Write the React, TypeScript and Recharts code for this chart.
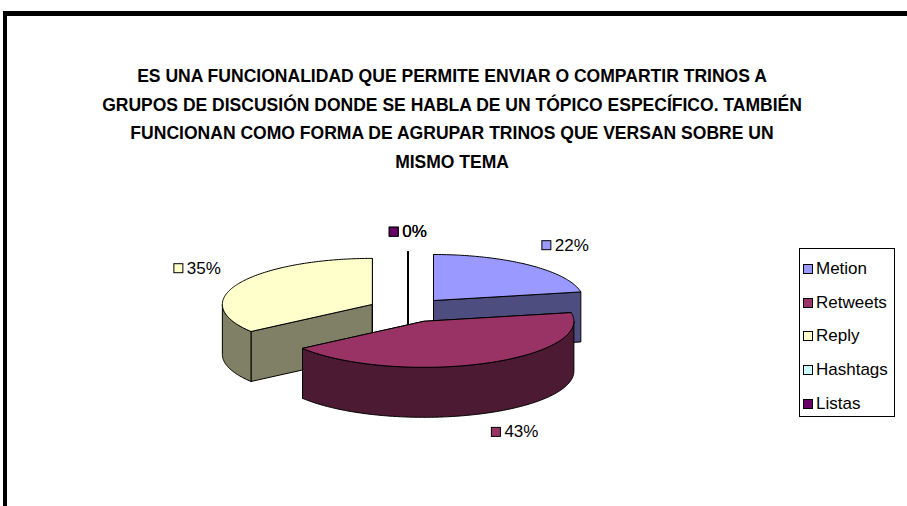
import React from 'react';
import { PieChart, Pie, Legend } from 'recharts';

const NAMES = ['Metion', 'Retweets', 'Reply', 'Hashtags', 'Listas'];
const VALUES = [22, 43, 35, 0, 0];
const TOP_COLORS = ['#9999FF', '#993366', '#FFFFCC', '#CCFFFF', '#660066'];
const SIDE_COLORS = ['#4D4D80', '#4D1A33', '#808066', '#668080', '#330033'];
const TITLE_LINES = [
  'ES UNA FUNCIONALIDAD QUE PERMITE ENVIAR O COMPARTIR TRINOS A',
  'GRUPOS DE DISCUSIÓN DONDE SE HABLA DE UN TÓPICO ESPECÍFICO. TAMBIÉN',
  'FUNCIONAN COMO FORMA DE AGRUPAR TRINOS QUE VERSAN SOBRE UN',
  'MISMO TEMA',
];

const data = NAMES.map((name, i) => ({ name, value: VALUES[i] }));

const FONT = '"Liberation Sans", Arial, sans-serif';
const LABEL_FS = 17;
const TILT = 0.307; // vertical squash of the pie ellipse
const DEPTH = 50;
const EXPLODE = 40;
const RAD = Math.PI / 180;

// painter's order: slices whose exploded centre sits higher are drawn first
const total = VALUES.reduce((a, b) => a + b, 0);
let acc = 0;
const mids = VALUES.map((v) => {
  const m = 90 - ((acc + v / 2) / total) * 360;
  acc += v;
  return m;
});
const drawOrder = NAMES.map((_, i) => i).sort(
  (a, b) => Math.sin(mids[b] * RAD) - Math.sin(mids[a] * RAD)
);

// title is drawn a bit taller than Arial Bold but kept at its natural width
const measure = (() => {
  let ctx: CanvasRenderingContext2D | null = null;
  return (txt: string, font: string) => {
    if (!ctx) ctx = document.createElement('canvas').getContext('2d');
    if (!ctx) return undefined;
    ctx.font = font;
    return ctx.measureText(txt).width;
  };
})();

type Pt = [number, number];

const ept = (cx: number, cy: number, r: number, a: number, dy = 0): Pt => [
  cx + r * Math.cos(a * RAD),
  cy - r * TILT * Math.sin(a * RAD) + dy,
];

const toPath = (pts: Pt[]) =>
  'M' + pts.map((p) => p[0].toFixed(2) + ',' + p[1].toFixed(2)).join('L') + 'Z';

function arc(cx: number, cy: number, r: number, a1: number, a2: number, dy: number) {
  const n = Math.max(1, Math.ceil(Math.abs(a2 - a1)));
  const out: Pt[] = [];
  for (let j = 0; j <= n; j++) out.push(ept(cx, cy, r, a1 + ((a2 - a1) * j) / n, dy));
  return out;
}

function slice3d(p: any, only: string) {
  if (p.payload?.name !== only && p.name !== only) return <g />;
  const i = NAMES.indexOf(only);
  const { cx, cy, outerRadius: r, startAngle: s, endAngle: e, midAngle: m } = p;
  const ox = cx + EXPLODE * Math.cos(m * RAD);
  const oy = cy - EXPLODE * TILT * Math.sin(m * RAD);

  const walls: Pt[][] = [];
  // radial walls
  for (const a of [s, e]) {
    const [x, y] = ept(ox, oy, r, a);
    walls.push([[ox, oy], [x, y], [x, y + DEPTH], [ox, oy + DEPTH]]);
  }
  // rim, only the front half shows
  const lo = Math.min(s, e);
  const hi = Math.max(s, e);
  for (let k = -2; k <= 2; k++) {
    const a1 = Math.max(lo, -180 + 360 * k);
    const a2 = Math.min(hi, 360 * k);
    if (a2 > a1) walls.push([...arc(ox, oy, r, a1, a2, 0), ...arc(ox, oy, r, a2, a1, DEPTH)]);
  }
  const top: Pt[] = [[ox, oy], ...arc(ox, oy, r, s, e, 0)];

  return (
    <g>
      {walls.map((w, j) => (
        <path key={j} d={toPath(w)} fill={SIDE_COLORS[i]} stroke="#000" strokeWidth={1} strokeLinejoin="round" />
      ))}
      <path d={toPath(top)} fill={TOP_COLORS[i]} stroke="#000" strokeWidth={1} strokeLinejoin="round" />
    </g>
  );
}

const renderLabel = (p: any) => {
  const name = p.payload?.name ?? p.name;
  const i = NAMES.indexOf(name);
  const { cx, cy, outerRadius: r, midAngle: m, percent } = p;
  const c = Math.cos(m * RAD);
  const sn = Math.sin(m * RAD);
  const ox = cx + EXPLODE * c;
  const oy = cy - EXPLODE * TILT * sn;
  const lx = ox + (r + 20) * c;
  // labels up and to the side sit with their lower corner on the anchor
  const lift = sn > 0 ? 7 * Math.abs(c) : 0;
  const ly = oy - (r * TILT + 20) * sn + (sn < -0.01 ? DEPTH : 0) - lift;
  const txt = `${Math.round(percent * 100)}%`;
  const tw = LABEL_FS * (0.556 * (txt.length - 1) + 0.889);
  const w = 13 + tw;
  const left = c > 0.3 ? lx : c < -0.3 ? lx - w : lx - w / 2;
  return (
    <g key={`lbl-${name}`}>
      <rect x={left} y={ly - 4.5} width={9} height={9} fill={TOP_COLORS[i]} stroke="#000" strokeWidth={1} />
      <text x={left + 13} y={ly} dominantBaseline="central" fontSize={LABEL_FS} fontFamily={FONT} fill="#000">
        {txt}
      </text>
    </g>
  );
};

const LegendBox = () => (
  <div
    style={{
      position: 'relative',
      width: 96,
      height: 169,
      boxSizing: 'border-box',
      border: '1px solid #000',
      background: '#fff',
      fontFamily: FONT,
      fontSize: 17,
    }}
  >
    {NAMES.map((n, i) => (
      <div
        key={n}
        style={{ position: 'absolute', left: 3, top: 10 + i * 33.7, height: 20, display: 'flex', alignItems: 'center' }}
      >
        <span
          style={{
            display: 'inline-block',
            width: 8,
            height: 8,
            border: '1px solid #000',
            background: TOP_COLORS[i],
            marginRight: 3,
          }}
        />
        <span>{n}</span>
      </div>
    ))}
  </div>
);

export default function App() {
  return (
    <div style={{ position: 'absolute', left: 0, top: 0, width: 907, height: 506, overflow: 'hidden', background: '#fff' }}>
      {/* chart frame, right and bottom edges fall outside the window */}
      <div
        style={{
          position: 'absolute',
          left: 3,
          top: 11,
          width: 1000,
          height: 600,
          borderLeft: '4px solid #000',
          borderTop: '5px solid #000',
        }}
      />
      <svg width={907} height={506} style={{ position: 'absolute', left: 0, top: 0 }}>
        {TITLE_LINES.map((t, j) => {
          const natural = measure(t, `bold 17.5px ${FONT}`);
          return (
            <text
              key={j}
              x={452}
              y={82 + j * 28.7}
              textAnchor="middle"
              fontWeight="bold"
              fontSize={18.5}
              fontFamily={FONT}
              fill="#000"
              textLength={natural}
              lengthAdjust="spacingAndGlyphs"
            >
              {t}
            </text>
          );
        })}
      </svg>
      <div style={{ position: 'absolute', left: 0, top: 0 }}>
        <PieChart width={907} height={506} margin={{ top: 0, right: 0, bottom: 0, left: 0 }}>
          {drawOrder.map((idx, k) => (
            <Pie
              key={NAMES[idx]}
              data={data}
              dataKey="value"
              nameKey="name"
              cx={408}
              cy={310}
              outerRadius={150}
              startAngle={90}
              endAngle={-270}
              isAnimationActive={false}
              legendType="none"
              shape={(p: any) => slice3d(p, NAMES[idx])}
              activeShape={(p: any) => slice3d(p, NAMES[idx])}
              inactiveShape={(p: any) => slice3d(p, NAMES[idx])}
              label={k === drawOrder.length - 1 ? renderLabel : false}
              labelLine={false}
            />
          ))}
          <Legend
            layout="vertical"
            align="right"
            verticalAlign="middle"
            content={() => <LegendBox />}
            wrapperStyle={{ left: 799, top: 248, width: 96, height: 169, right: 'auto', bottom: 'auto' }}
          />
        </PieChart>
      </div>
    </div>
  );
}
